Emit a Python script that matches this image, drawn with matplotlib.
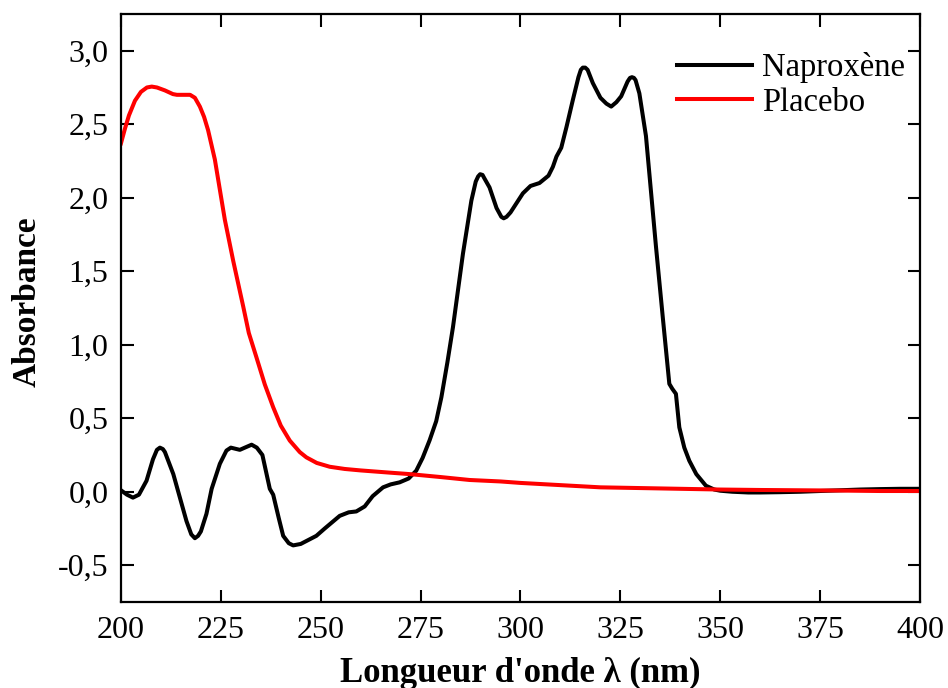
import matplotlib
matplotlib.use("Agg")
import matplotlib.pyplot as plt
from matplotlib.ticker import FuncFormatter, MultipleLocator

plt.rcParams['font.family'] = ['Liberation Serif', 'DejaVu Serif']

# Naproxène spectrum (wavelength nm, absorbance)
nap_wl = [200, 201.5, 203, 204.5, 206.4, 208, 209, 209.75, 210.5, 211, 213.1, 216.4,
          217.6, 218.5, 219.3, 220,
          221.4, 222.7, 224.75, 226.4, 227.5, 229.75, 231, 232.7, 234, 235.4, 237.25,
          238.1, 239.5, 240.6, 242, 243.1, 245, 248.9, 251, 254.75, 257, 258.9, 261,
          263, 265.6, 267.5, 269.75, 272, 273.9, 275.5, 277.25, 278.9, 280.2, 281.7,
          283.1, 285.6, 287.7, 288.8, 289.4, 289.9, 290.5, 291, 292.25, 294, 295.2, 295.8,
          296.5, 297.5, 300.6,
          302.5, 304.75, 307, 308.1, 309, 310.2, 311.5, 313.1, 314.5, 315.1, 315.6, 316.2,
          316.8, 318.1, 320, 321.5, 322.7, 324, 325.2, 326.8, 327.4, 327.9, 328.4, 328.8,
          329.75, 331.4, 333.9,
          335.6, 337.25, 338, 338.9, 339.75, 341, 342.25, 344, 346.4, 348.5, 350, 353,
          357, 360, 365, 370, 375, 380, 385, 390, 395, 400]
nap_abs = [0.01, -0.02, -0.04, -0.02, 0.075, 0.22, 0.285, 0.30, 0.29, 0.27, 0.12, -0.2,
           -0.29, -0.316, -0.30, -0.27,
           -0.15, 0.02, 0.19, 0.28, 0.30, 0.285, 0.30, 0.32, 0.30, 0.25, 0.02,
           -0.02, -0.18, -0.30, -0.35, -0.365, -0.355, -0.30, -0.25, -0.164, -0.14, -0.134, -0.1,
           -0.03, 0.03, 0.05, 0.064, 0.09, 0.143, 0.23, 0.35, 0.48, 0.643, 0.88,
           1.12, 1.62, 1.98, 2.11, 2.145, 2.16, 2.155, 2.13, 2.07, 1.93, 1.87, 1.86,
           1.87, 1.9, 2.03,
           2.08, 2.10, 2.15, 2.21, 2.28, 2.34, 2.48, 2.665, 2.82, 2.87, 2.885, 2.885,
           2.87, 2.78, 2.68, 2.64, 2.62, 2.65, 2.69, 2.79, 2.815, 2.82, 2.815, 2.80,
           2.71, 2.42, 1.67,
           1.19, 0.734, 0.70, 0.666, 0.438, 0.30, 0.211, 0.12, 0.041, 0.015, 0.007, 0.0,
           -0.005, -0.005, -0.003, 0.0, 0.005, 0.01, 0.015, 0.018, 0.02, 0.02]

# Placebo spectrum
pla_wl = [200, 201, 202, 203.5, 205, 206.5, 207.7, 209, 211, 213, 214, 215.5, 217.3,
          218.5, 219.75, 220.8, 221.8, 223.5, 226, 228.1, 230.6, 232, 233.9, 236, 238.1,
          240, 242.25, 244.75, 246.4, 249, 252.25, 256, 260, 267.25, 272.25, 280, 287.25,
          295, 300, 310, 320, 330, 340, 350, 360, 370, 380, 390, 400]
pla_abs = [2.37, 2.47, 2.56, 2.66, 2.72, 2.75, 2.756, 2.75, 2.73, 2.705, 2.70, 2.70, 2.70,
           2.68, 2.62, 2.55, 2.46, 2.26, 1.85, 1.57, 1.26, 1.08, 0.915, 0.73, 0.575,
           0.45, 0.348, 0.27, 0.234, 0.196, 0.170, 0.155, 0.145, 0.13, 0.12, 0.10, 0.08,
           0.07, 0.06, 0.045, 0.03, 0.025, 0.02, 0.015, 0.012, 0.01, 0.008, 0.005, 0.005]

fig = plt.figure(figsize=(9.48, 6.88), dpi=100)
ax = fig.add_axes([0.1276, 0.125, 0.8429, 0.8547])

ax.plot(nap_wl, nap_abs, color='black', lw=2.9, label='Naproxène',
        solid_joinstyle='round')
ax.plot(pla_wl, pla_abs, color='#ff0000', lw=2.9, label='Placebo',
        solid_joinstyle='round')

ax.set_xlim(200, 400)
ax.set_ylim(-0.75, 3.25)
ax.xaxis.set_major_locator(MultipleLocator(25))
ax.yaxis.set_major_locator(MultipleLocator(0.5))
ax.yaxis.set_major_formatter(FuncFormatter(lambda v, p: f"{v:.1f}".replace('.', ',')))

ax.tick_params(direction='in', length=9, width=1.5, top=True, right=True,
               labelsize=23)
ax.tick_params(axis='x', pad=10)
ax.tick_params(axis='y', pad=9)
for s in ax.spines.values():
    s.set_linewidth(1.6)

ax.set_xlabel("Longueur d'onde λ (nm)", fontsize=25, fontweight='bold')
ax.set_ylabel("Absorbance", fontsize=24, fontweight='bold')
ax.xaxis.set_label_coords(0.5, -0.093)
ax.yaxis.set_label_coords(-0.098, 0.51)

ax.legend(loc='upper left', bbox_to_anchor=(0.696, 0.935), frameon=False, fontsize=23.5,
          handlelength=2.3, handletextpad=0.3, labelspacing=0.12,
          borderpad=0, borderaxespad=0)

fig.savefig('out.png', dpi=100)
